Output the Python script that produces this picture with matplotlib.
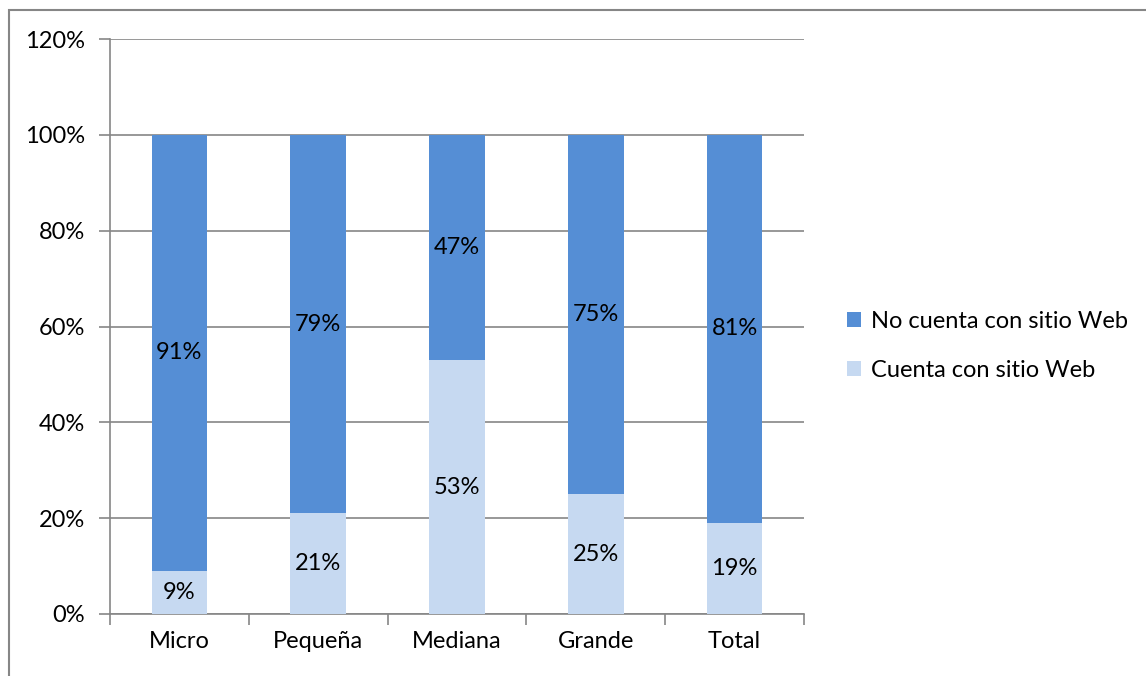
import numpy as np
import matplotlib.pyplot as plt
from matplotlib.patches import Rectangle

# company size categories and share of firms with / without a website
categories = ["Micro", "Pequeña", "Mediana", "Grande", "Total"]
con_web = [9, 21, 53, 25, 19]
sin_web = [91, 79, 47, 75, 81]
series_names = ["No cuenta con sitio Web", "Cuenta con sitio Web"]
yticks = [0, 20, 40, 60, 80, 100, 120]

plt.rcParams['font.family'] = ['Lato', 'DejaVu Sans']
FS = 17

W, H = 1146, 676
fig = plt.figure(figsize=(W / 100, H / 100), dpi=100)

# plot area in pixels
left, right, top, bottom = 110, 804, 39, 614
ax = fig.add_axes([left / W, 1 - bottom / H, (right - left) / W, (bottom - top) / H])

dark = "#558ED5"
light = "#C6D9F1"
grid = "#868686"

x = np.arange(len(categories))
width = 0.40
b1 = ax.bar(x, con_web, width, color=light, zorder=3)
b2 = ax.bar(x, sin_web, width, bottom=con_web, color=dark, zorder=3)

for i in range(len(categories)):
    ax.text(x[i], con_web[i] / 2, f"{con_web[i]}%", ha="center", va="center",
            fontsize=FS, zorder=4)
    ax.text(x[i], con_web[i] + sin_web[i] / 2, f"{sin_web[i]}%", ha="center",
            va="center", fontsize=FS, zorder=4)

ax.set_xlim(-0.5, len(categories) - 0.5)
ax.set_ylim(0, 120)
ax.set_yticks(yticks)
ax.set_yticklabels([f"{v}%" for v in yticks], fontsize=FS)
ax.yaxis.grid(True, color=grid, linewidth=1.2, zorder=0)
ax.set_axisbelow(True)

# category ticks sit between bars
ax.set_xticks(np.arange(len(categories) + 1) - 0.5)
ax.set_xticklabels([])
ax.set_xticks(x, minor=True)
ax.set_xticklabels(categories, minor=True, fontsize=FS)
ax.tick_params(axis="x", which="minor", length=0, pad=12)
ax.tick_params(axis="x", which="major", length=8, width=1.2, color=grid)
ax.tick_params(axis="y", length=8, width=1.2, color=grid, pad=10)

for s in ["top", "right"]:
    ax.spines[s].set_visible(False)
for s in ["left", "bottom"]:
    ax.spines[s].set_color(grid)
    ax.spines[s].set_linewidth(1.2)

# legend (dark series first)
leg = fig.legend([b2, b1], series_names, loc="center left",
                 bbox_to_anchor=(826 / W, 1 - 346 / H), frameon=False,
                 fontsize=FS, handlelength=0.6, handleheight=0.6,
                 handletextpad=0.4, labelspacing=1.2)

# outer chart border
fig.patches.append(Rectangle((8.5 / W, -0.1), 1.2, 1 - 9.5 / H + 0.1,
                             transform=fig.transFigure, fill=False,
                             edgecolor=grid, linewidth=1.5))

fig.savefig("out.png", dpi=100)
